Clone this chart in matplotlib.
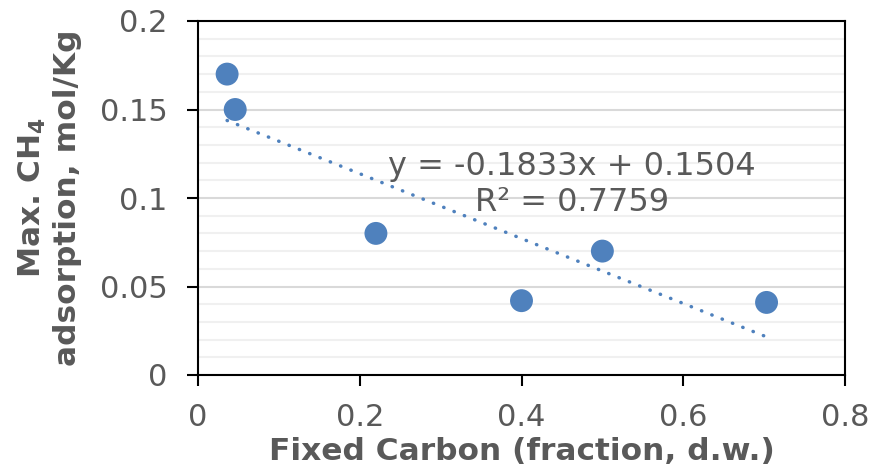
import matplotlib
matplotlib.use("Agg")
import matplotlib.pyplot as plt
import numpy as np

# Data
fixed_carbon = [0.036, 0.046, 0.22, 0.40, 0.50, 0.703]
max_ch4 = [0.170, 0.150, 0.080, 0.042, 0.070, 0.041]
slope = -0.1833
intercept = 0.1504
r2 = 0.7759
x_ticks = [0, 0.2, 0.4, 0.6, 0.8]
x_tick_labels = ["0", "0.2", "0.4", "0.6", "0.8"]
y_ticks = [0, 0.05, 0.1, 0.15, 0.2]
y_tick_labels = ["0", "0.05", "0.1", "0.15", "0.2"]

blue = "#4F81BD"
gray = "#595959"

fig = plt.figure(figsize=(8.73, 4.70), dpi=100)
ax = fig.add_axes([198/873, 1 - 375/470, (845-198)/873, (375-21)/470])

ax.set_xlim(0, 0.8)
ax.set_ylim(0, 0.2)

# gridlines
ax.set_yticks(np.arange(0, 0.2001, 0.01), minor=True)
ax.yaxis.grid(True, which="minor", color="#F0F0F0", linewidth=1.5, zorder=0)
ax.yaxis.grid(True, which="major", color="#D9D9D9", linewidth=1.5, zorder=0)
ax.set_axisbelow(True)

# trendline
xt = np.array([min(fixed_carbon), max(fixed_carbon)])
ax.plot(xt, slope * xt + intercept, linestyle=(0, (0.1, 3.1)), dash_capstyle="round",
        color=blue, linewidth=2.5, zorder=2)

ax.scatter(fixed_carbon, max_ch4, s=16.5**2, color=blue, edgecolors="none", zorder=3)

ax.set_xticks(x_ticks)
ax.set_xticklabels(x_tick_labels)
ax.set_yticks(y_ticks)
ax.set_yticklabels(y_tick_labels)
ax.tick_params(axis="both", which="major", direction="out", length=8, width=1.5,
               color="black", labelsize=22, labelcolor=gray)
ax.tick_params(axis="y", which="major", pad=14)
ax.tick_params(axis="x", which="major", pad=12)
ax.tick_params(axis="y", which="minor", length=0)

for s in ax.spines.values():
    s.set_color("black")
    s.set_linewidth(1.5)

ax.set_xlabel("Fixed Carbon (fraction, d.w.)", fontsize=22.5, fontweight="bold",
              color=gray, labelpad=4)
ax.set_ylabel("Max. CH$_\\mathbf{4}$\nadsorption, mol/Kg", fontsize=22.5,
              fontweight="bold", color=gray, linespacing=1.2)
ax.yaxis.set_label_coords((82 - 198) / 647, 0.5)

eq = f"y = {slope:.4f}x + {intercept:.4f}\nR\u00b2 = {r2:.4f}"
ax.text(0.4625, 0.1075, eq, fontsize=23, color=gray, ha="center", va="center",
        linespacing=1.2)

fig.savefig("out.png", dpi=100)
